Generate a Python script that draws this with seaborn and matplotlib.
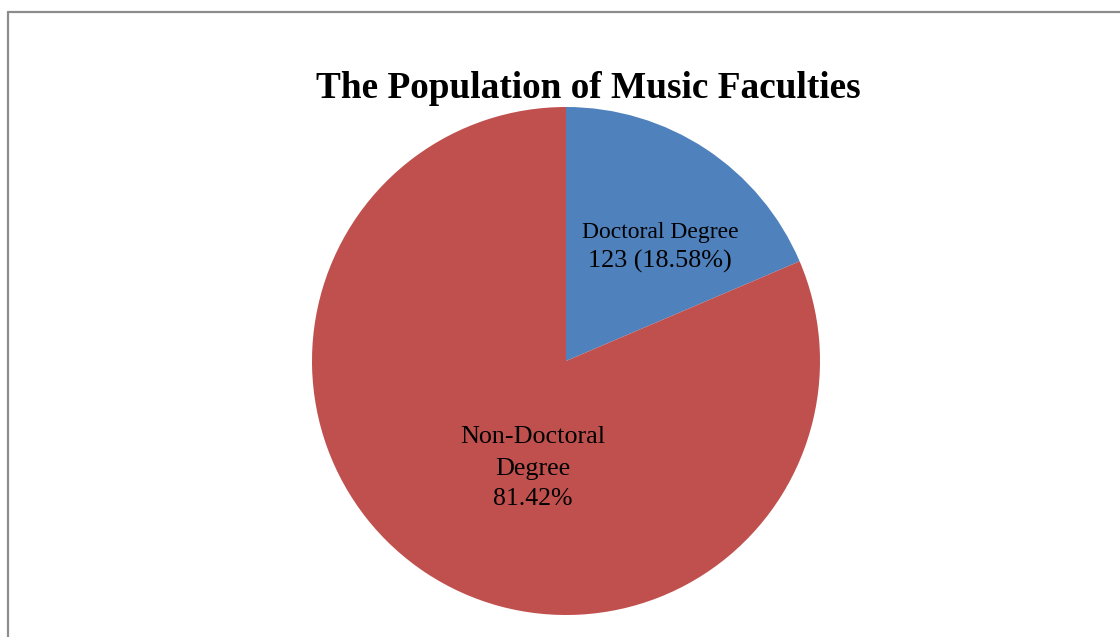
import matplotlib
matplotlib.use("Agg")
import matplotlib.pyplot as plt
from matplotlib.lines import Line2D
import seaborn as sns
import numpy as np

# Data
categories = ["Doctoral Degree", "Non-Doctoral Degree"]
counts = [123, 539]
percent_labels = ["18.58%", "81.42%"]
title = "The Population of Music Faculties"
colors = ["#4F81BD", "#C0504D"]

sns.set_theme(style="white")
plt.rcParams["font.family"] = ["Liberation Serif", "DejaVu Serif"]

W, H = 1120, 637
fig = plt.figure(figsize=(W / 100, H / 100), dpi=100)
fig.patch.set_facecolor("white")

# Pie axes: center (566, 361) px, radius 254 px
cx, cy, r = 566, 361, 254
ax = fig.add_axes([(cx - r) / W, (H - cy - r) / H, 2 * r / W, 2 * r / H])
wedges, _ = ax.pie(counts, colors=colors, startangle=90, counterclock=False,
                   radius=1, wedgeprops=dict(linewidth=0))
ax.set_xlim(-1, 1)
ax.set_ylim(-1, 1)
ax.set_aspect("equal")
ax.axis("off")

# Labels (one text per line, baseline aligned)
ax.text(0.370, 0.484, categories[0], ha="center", va="baseline",
        fontsize=17, color="black")
ax.text(0.370, 0.366, f"{counts[0]} ({percent_labels[0]})", ha="center",
        va="baseline", fontsize=18.8, color="black")
ax.text(-0.130, -0.323, "Non-Doctoral", ha="center", va="baseline",
        fontsize=18.8, color="black")
ax.text(-0.130, -0.449, "Degree", ha="center", va="baseline",
        fontsize=18.8, color="black")
ax.text(-0.130, -0.567, percent_labels[1], ha="center", va="baseline",
        fontsize=18.5, color="black")

# Title
fig.text(588.5 / W, 1 - 98 / H, title, ha="center", va="baseline",
         fontsize=26.8, fontweight="bold", color="black")

# Border (chart frame, cut at right/bottom)
fig.add_artist(Line2D([7.5 / W, 1.0], [1 - 11.5 / H, 1 - 11.5 / H],
                      transform=fig.transFigure, color="#8c8c8c", lw=1.6))
fig.add_artist(Line2D([7.5 / W, 7.5 / W], [1 - 11.5 / H, 0.0],
                      transform=fig.transFigure, color="#8c8c8c", lw=1.6))

fig.savefig("out.png", dpi=100, facecolor="white")
